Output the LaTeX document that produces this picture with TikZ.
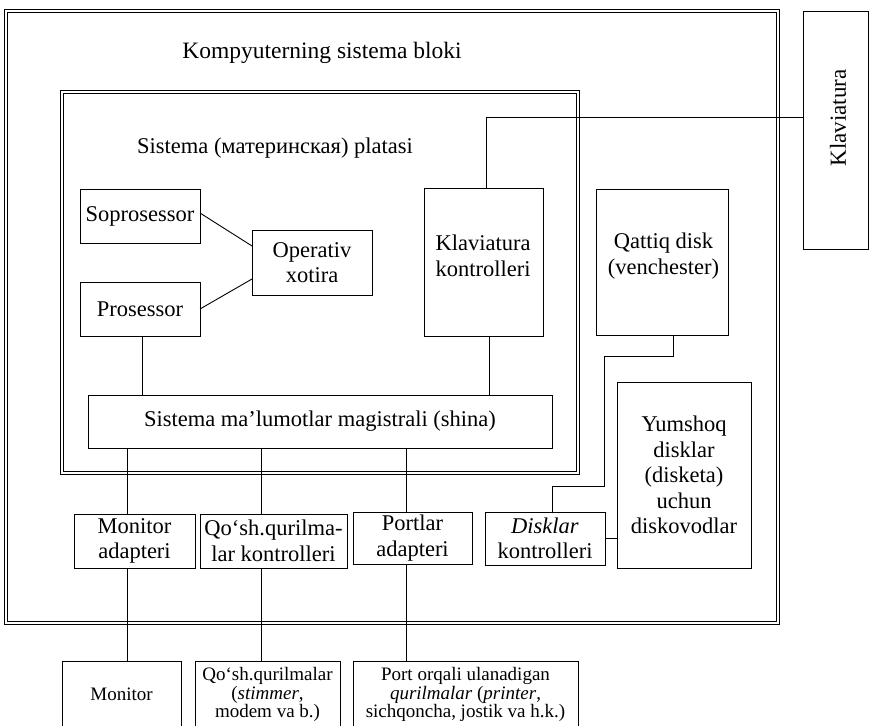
\documentclass[tikz,border=0pt]{standalone}
\usepackage{fontspec}
\setmainfont{Liberation Serif}
\begin{document}
\begin{tikzpicture}[x=1pt,y=-1pt,
  bx/.style={draw, line width=0.9pt, inner sep=0pt, outer sep=0pt, align=center, font=\fontsize{22.5}{25.5}\selectfont},
  dbl/.style={draw, double, double distance=2pt, line width=0.8pt, inner sep=0pt, outer sep=0pt},
  sm/.style={draw, line width=0.9pt, inner sep=0pt, outer sep=0pt, align=center, font=\fontsize{19}{18.5}\selectfont},
  txt/.style={inner sep=0pt, align=center, font=\fontsize{22.5}{25.5}\selectfont},
  ln/.style={line width=0.9pt}]
\clip (0,0) rectangle (869,725);
\useasboundingbox (0,0) rectangle (869,725);
% frames
\node[dbl, minimum width=772pt, minimum height=612pt] (outer) at (392,317) {};
\node[dbl, minimum width=516pt, minimum height=381pt] (inner) at (320,282.5) {};
\node[txt, font=\fontsize{23.5}{26}\selectfont] (title) at (322,53) {Kompyuterning sistema bloki};
\node[txt] (mbt) at (275,148) {Sistema (материнская) platasi};
% boxes
\node[bx, minimum width=120pt, minimum height=54pt] (sopro) at (140,216) {Soprosessor};
\node[bx, minimum width=120pt, minimum height=54pt] (proc) at (140,309) {Prosessor};
\node[bx, minimum width=120pt, minimum height=65pt] (oper) at (312,262.5) {Operativ\\xotira};
\node[bx, minimum width=119pt, minimum height=148pt] (kk) at (483.5,262) {};
\node[txt] (kkt) at (483,256) {Klaviatura\\kontrolleri};
\node[bx, minimum width=132pt, minimum height=146pt] (hdd) at (662,262) {};
\node[txt] (hddt) at (663.5,256) {Qattiq disk\\(venchester)};
\node[bx, minimum width=464pt, minimum height=53pt] (bus) at (320,421.5) {Sistema ma’lumotlar magistrali (shina)};
\node[bx, minimum width=121pt, minimum height=54pt] (madp) at (134.5,541) {Monitor\\adapteri};
\node[bx, minimum width=147pt, minimum height=54pt] (qctl) at (273.5,541) {Qo‘sh.qurilma-\\lar kontrolleri};
\node[bx, minimum width=119pt, minimum height=52pt] (padp) at (412.5,538) {Portlar\\adapteri};
\node[bx, minimum width=120pt, minimum height=53pt] (dctl) at (545,538.5) {\textit{Disklar}\\kontrolleri};
\node[bx, minimum width=134pt, minimum height=186pt] (fdd) at (684,475) {Yumshoq\\disklar\\(disketa)\\uchun\\diskovodlar};
\node[bx, minimum width=65pt, minimum height=238pt] (kbd) at (835.5,130) {};
\node[txt, rotate=90, font=\fontsize{23}{25}\selectfont] (kbdt) at (838,118) {Klaviatura};
% external devices
\node[sm, minimum width=119pt, minimum height=67pt] (mon) at (121.5,694.5) {Monitor};
\node[sm, minimum width=145pt, minimum height=67pt] (qdev) at (267.5,694.5) {Qo‘sh.qurilmalar\\(\textit{stimmer},\\modem va b.)};
\node[sm, minimum width=225pt, minimum height=67pt] (pdev) at (465.5,694.5) {Port orqali ulanadigan\\\textit{qurilmalar} (\textit{printer},\\sichqoncha, jostik va h.k.)};
% helper coordinates
\coordinate (pb) at (142,0);
\coordinate (kx) at (486,117);
\coordinate (kb) at (489,0);
\coordinate (hx) at (673,0);
\coordinate (h1) at (604,356);
\coordinate (h2) at (552,486);
\coordinate (m) at (127,0);
\coordinate (q) at (261,0);
\coordinate (p) at (406,0);
% connectors
\draw[ln] ([yshift=3pt]sopro.east) -- ([yshift=16.5pt]oper.west);
\draw[ln] (proc.east) -- ([yshift=-16.5pt]oper.west);
\draw[ln] (pb |- proc.south) -- (pb |- bus.north);
\draw[ln] (kx |- kk.north) -- (kx) -- (kx -| kbd.west);
\draw[ln] (kb |- kk.south) -- (kb |- bus.north);
\draw[ln] (hdd.south -| hx) |- (h1) |- (h2) -- (h2 |- dctl.north);
\draw[ln] (dctl.east) -- (dctl.east -| fdd.west);
\draw[ln] (m |- bus.south) -- (m |- madp.north);
\draw[ln] (q |- bus.south) -- (q |- qctl.north);
\draw[ln] (p |- bus.south) -- (p |- padp.north);
\draw[ln] (m |- madp.south) -- (m |- mon.north);
\draw[ln] (q |- qctl.south) -- (q |- qdev.north);
\draw[ln] (p |- padp.south) -- (p |- pdev.north);
\end{tikzpicture}
\end{document}
